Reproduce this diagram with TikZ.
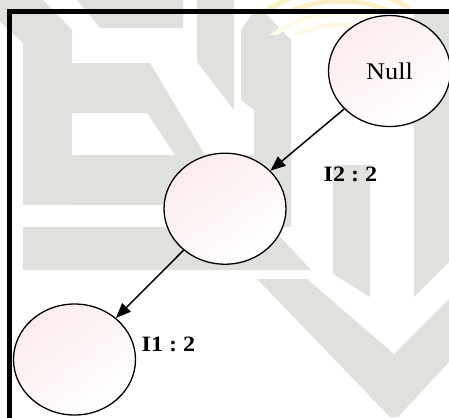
\documentclass[tikz,border=0pt]{standalone}
\usepackage{fontspec}
\setmainfont{Liberation Serif}[FakeStretch=1.1]
\usetikzlibrary{shapes.geometric,arrows.meta}
\definecolor{wm}{RGB}{223,226,220}
\definecolor{yel}{RGB}{251,240,196}
\definecolor{yelfaint}{RGB}{254,250,232}
\definecolor{pinkfill}{RGB}{252,236,236}
\begin{document}
\begin{tikzpicture}[x=1bp,y=-1bp,
  state/.style={ellipse, draw=black, line width=1.3bp, minimum width=122bp, minimum height=111bp, inner sep=0pt, top color=pinkfill, bottom color=white, shading angle=35},
  edgearrow/.style={-{Triangle[length=15bp,width=12bp]}, line width=1.5bp},
  lbl/.style={font=\fontsize{22}{22}\selectfont\bfseries, inner sep=0pt, anchor=base},
  wmark/.style={fill=wm, draw=none},
  ymark/.style={line width=5bp}]
\useasboundingbox (0,0) rectangle (449,417);
\clip (0,0) rectangle (449,417);
% watermark
\fill[wmark] (0,0) -- (43,0) -- (72,30) -- (72,205) -- (23,205) -- (23,43) -- (0,22) -- cycle;
\fill[wmark] (77,0) -- (183,0) -- (183,28) -- (100,28) -- cycle;
\fill[wmark] (72,63) -- (150,63) -- (205,155) -- (175,155) -- (147,113) -- (72,113) -- cycle;
\fill[wmark] (23,155) -- (260,155) -- (260,205) -- (23,205) -- cycle;
\fill[wmark] (197,0) -- (234,0) -- (234,110) -- (197,62) -- cycle;
\fill[wmark] (241,30) -- (252,14) -- (266,14) -- (291,40) -- (291,227) -- (254,227) -- (254,110) -- (241,100) -- cycle;
\fill[wmark] (23,227) -- (271,227) -- (311,270) -- (23,270) -- cycle;
\fill[wmark] (257,279) -- (307,279) -- (394,354) -- (449,299) -- (449,362) -- (398,417) -- (390,417) -- cycle;
\fill[wmark] (333,165) -- (370,165) -- (370,297) -- (333,274) -- cycle;
\fill[wmark] (414,14) -- (449,14) -- (449,262) -- (414,297) -- cycle;
\begin{scope}
  \clip (265,0) rectangle (410,10);
  \foreach \r in {112,124,136} \draw[ymark, draw=yel] (340,125) circle[radius=\r];
\end{scope}
\begin{scope}
  \clip (265,14) rectangle (410,34);
  \foreach \r in {100,112} \draw[ymark, draw=yelfaint] (340,125) circle[radius=\r];
\end{scope}
% frame
\draw[line width=5bp] (9,425) -- (9,11.8) -- (460,11.8);
% nodes
\node[state] (null) at (389.5,71) {\fontsize{24}{24}\selectfont Null};
\node[state] (mid) at (225,208.7) {};
\node[state] (bot) at (74.5,359.5) {};
\draw[edgearrow] (null) -- (mid);
\draw[edgearrow] (mid) -- (bot);
\node[lbl] (l2) at (350.5,181.5) {I2\hspace{6bp}:\hspace{6bp}2};
\node[lbl] (l1) at (168.5,351) {I1\hspace{6bp}:\hspace{6bp}2};
\end{tikzpicture}
\end{document}
